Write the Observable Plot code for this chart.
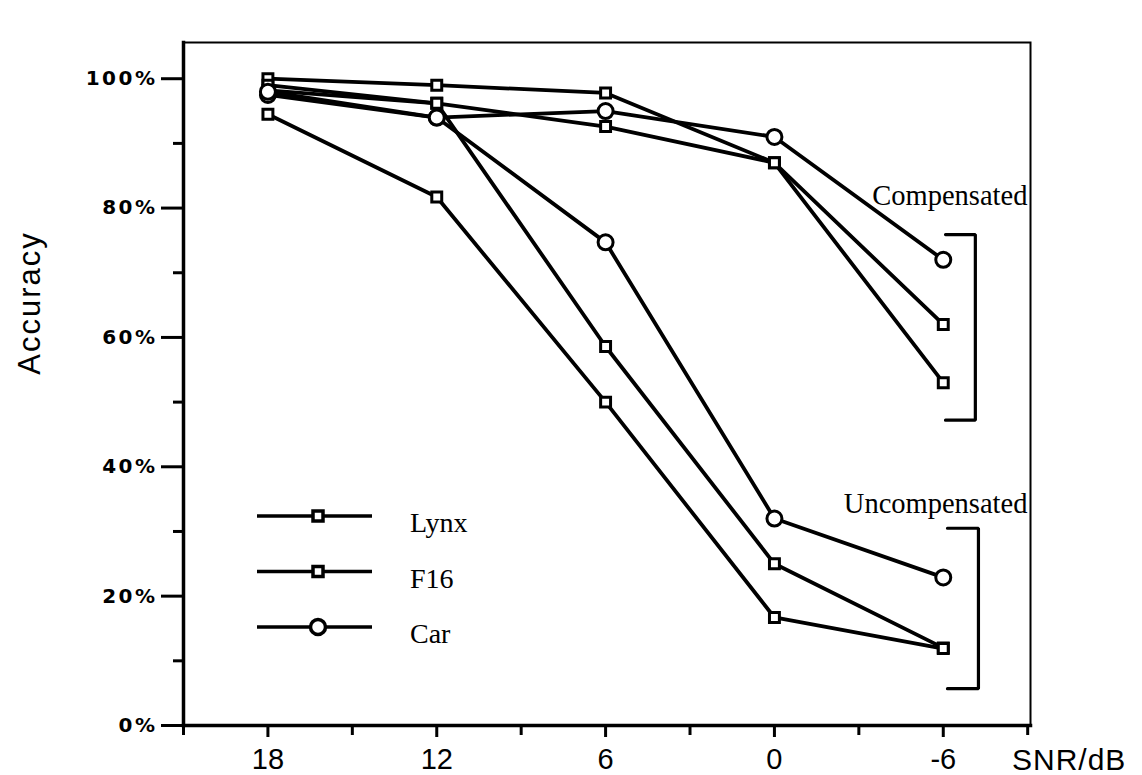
<!DOCTYPE html>
<html><head><meta charset="utf-8">
<script src="https://cdn.jsdelivr.net/npm/d3@7"></script>
<script src="https://cdn.jsdelivr.net/npm/@observablehq/plot@0.6"></script>
<style>
body{margin:0;background:#fff;}
#wrap{position:relative;width:1142px;height:775px;background:#fff;}
#wrap svg{position:absolute;left:0;top:0;}
</style></head><body><div id="wrap"></div>
<script>
// ---- data ----
const snr = [18, 12, 6, 0, -6];
const seriesNames = ["Lynx", "F16", "Car"];
const seriesMarkers = ["square", "square", "circle"];
const lynxCompensated   = [100, 99, 97.8, 87, 62];
const f16Compensated    = [98.2, 96.2, 92.6, 87, 53];
const carCompensated    = [97.5, 94, 95, 91, 72];
const lynxUncompensated = [99, 96.2, 58.6, 25, 12];
const f16Uncompensated  = [94.5, 81.7, 50, 16.7, 11.9];
const carUncompensated  = [98, 94, 74.7, 32, 22.9];
const yTicks = [0, 20, 40, 60, 80, 100];
const yMinorTicks = [10, 30, 50, 70, 90];
const xMinorTicks = [21, 15, 9, 3, -3, -9];
const xTitle = "SNR/dB";
const yTitle = "Accuracy";
const groupLabels = ["Compensated", "Uncompensated"];
const groupLabelX = [-8.99, -8.99];
const groupLabelY = [81.9, 34.3];
const compBracketX = [-6.08, -7.14, -7.14, -6.08];
const compBracketY = [75.9, 75.9, 47.2, 47.2];
const uncompBracketX = [-6.15, -7.25, -7.25, -6.15];
const uncompBracketY = [30.5, 30.5, 5.7, 5.7];

// ---- build table ----
const seriesDefs = [
  {name: "Lynx", cond: "Compensated", marker: "square", values: lynxCompensated},
  {name: "F16", cond: "Compensated", marker: "square", values: f16Compensated},
  {name: "Car", cond: "Compensated", marker: "circle", values: carCompensated},
  {name: "Lynx", cond: "Uncompensated", marker: "square", values: lynxUncompensated},
  {name: "F16", cond: "Uncompensated", marker: "square", values: f16Uncompensated},
  {name: "Car", cond: "Uncompensated", marker: "circle", values: carUncompensated}
];
const rows = seriesDefs.flatMap(s => s.values.map((v, i) => ({snr: snr[i], acc: v, key: s.name + " " + s.cond, marker: s.marker})));
const bracketRows = [
  ...compBracketX.map((x, i) => ({x, y: compBracketY[i], b: "comp"})),
  ...uncompBracketX.map((x, i) => ({x, y: uncompBracketY[i], b: "uncomp"}))
];
const labelRows = groupLabels.map((t, i) => ({t, x: groupLabelX[i], y: groupLabelY[i]}));

const chart = Plot.plot({
  width: 1142, height: 775,
  marginLeft: 183, marginRight: 112, marginTop: 42, marginBottom: 50,
  style: {background: "white", color: "black"},
  x: {domain: [21, -9.1]},
  y: {domain: [0, 105.6]},
  marks: [
    Plot.frame({stroke: "black", strokeWidth: 2}),
    Plot.frame({anchor: "left", stroke: "black", strokeWidth: 3.5}),
    Plot.frame({anchor: "bottom", stroke: "black", strokeWidth: 3.5}),
    Plot.axisY({ticks: yTicks, tickSize: 22, tickPadding: 4, tickFormat: d => d + "%", fontSize: 20, fontFamily: "DejaVu Sans", fontWeight: "bold", label: null, strokeWidth: 3}),
    Plot.axisY({ticks: yMinorTicks, tickSize: 10, text: null, label: null, strokeWidth: 3}),
    Plot.axisX({ticks: snr, tickSize: 12, tickPadding: 11, tickFormat: d => d < 0 ? "-" + Math.abs(d) : String(d), fontSize: 29, fontFamily: "Liberation Sans", label: null, strokeWidth: 3}),
    Plot.axisX({ticks: xMinorTicks, tickSize: 10, text: null, label: null, strokeWidth: 3}),
    Plot.line(rows, {x: "snr", y: "acc", z: "key", stroke: "black", strokeWidth: 3.8}),
    Plot.dot(rows.filter(d => d.marker === "square"), {x: "snr", y: "acc", symbol: "square", r: 5.6, fill: "white", stroke: "black", strokeWidth: 3}),
    Plot.dot(rows.filter(d => d.marker === "circle"), {x: "snr", y: "acc", symbol: "circle", r: 7.5, fill: "white", stroke: "black", strokeWidth: 3}),
    Plot.line(bracketRows, {x: "x", y: "y", z: "b", stroke: "black", strokeWidth: 3.2, strokeLinejoin: "miter"}),
    Plot.text(labelRows, {x: "x", y: "y", text: "t", textAnchor: "end", fontSize: 28.5, fontFamily: "Liberation Serif", fill: "black"})
  ]
});
const wrap = document.getElementById("wrap");
wrap.appendChild(chart);
d3.select(chart).selectAll('g[aria-label="y-axis tick label"]').attr("letter-spacing", 2.5);

// ---- overlay: axis titles and legend ----
const ov = d3.select(wrap).append("svg").attr("width", 1142).attr("height", 775).style("pointer-events", "none");
ov.append("text").attr("transform", "translate(40,303) rotate(-90)").attr("text-anchor", "middle")
  .attr("font-family", "Liberation Sans").attr("font-size", 31).attr("letter-spacing", 2).attr("fill", "black").text(yTitle);
ov.append("text").attr("x", 1012).attr("y", 770)
  .attr("font-family", "Liberation Sans").attr("font-size", 30).attr("letter-spacing", 1).attr("fill", "black").text(xTitle);
seriesNames.forEach((name, i) => {
  const y = 516 + i * 55.5;
  ov.append("line").attr("x1", 257).attr("x2", 372).attr("y1", y).attr("y2", y).attr("stroke", "black").attr("stroke-width", 3.5);
  if (seriesMarkers[i] === "square") {
    ov.append("rect").attr("x", 313).attr("y", y - 5).attr("width", 10).attr("height", 10).attr("fill", "white").attr("stroke", "black").attr("stroke-width", 3.5);
  } else {
    ov.append("circle").attr("cx", 318).attr("cy", y).attr("r", 7.5).attr("fill", "white").attr("stroke", "black").attr("stroke-width", 3.5);
  }
  ov.append("text").attr("x", 410).attr("y", y + 16).attr("font-family", "Liberation Serif").attr("font-size", 28).attr("fill", "black").text(name);
});
</script></body></html>
